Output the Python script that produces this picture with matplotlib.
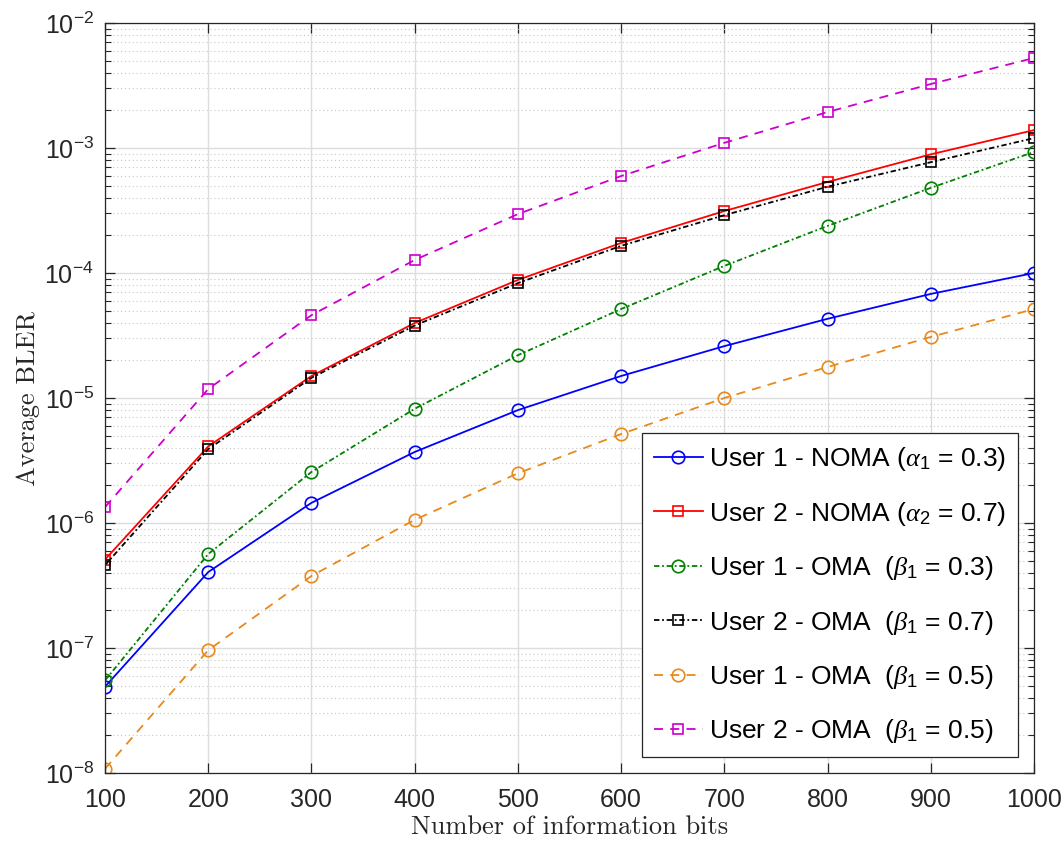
import numpy as np
import matplotlib.pyplot as plt
from matplotlib.ticker import LogLocator, LogFormatterMathtext, NullFormatter

# Block length (number of information bits)
bits = [100, 200, 300, 400, 500, 600, 700, 800, 900, 1000]

# Average BLER
noma_user1 = [4.9e-8, 4.05e-7, 1.45e-6, 3.7e-6, 8.0e-6, 1.5e-5, 2.6e-5, 4.3e-5, 6.8e-5, 1.0e-4]
noma_user2 = [5.1e-7, 4.1e-6, 1.5e-5, 3.98e-5, 8.8e-5, 1.74e-4, 3.13e-4, 5.35e-4, 8.9e-4, 1.39e-3]
oma_user1_b03 = [5.5e-8, 5.65e-7, 2.56e-6, 8.2e-6, 2.2e-5, 5.15e-5, 1.14e-4, 2.38e-4, 4.8e-4, 9.3e-4]
oma_user2_b07 = [4.6e-7, 3.9e-6, 1.45e-5, 3.8e-5, 8.3e-5, 1.65e-4, 2.9e-4, 4.9e-4, 7.7e-4, 1.2e-3]
oma_user1_b05 = [1.08e-8, 9.6e-8, 3.77e-7, 1.06e-6, 2.5e-6, 5.15e-6, 1.0e-5, 1.77e-5, 3.08e-5, 5.15e-5]
oma_user2_b05 = [1.34e-6, 1.18e-5, 4.6e-5, 1.27e-4, 2.96e-4, 5.97e-4, 1.1e-3, 1.94e-3, 3.25e-3, 5.25e-3]

labels = [
    r'User 1 - NOMA ($\alpha_1$ = 0.3)',
    r'User 2 - NOMA ($\alpha_2$ = 0.7)',
    r'User 1 - OMA  ($\beta_1$ = 0.3)',
    r'User 2 - OMA  ($\beta_1$ = 0.7)',
    r'User 1 - OMA  ($\beta_1$ = 0.5)',
    r'User 2 - OMA  ($\beta_1$ = 0.5)',
]

plt.rcParams['font.family'] = ['Liberation Sans', 'DejaVu Sans']
plt.rcParams['mathtext.fontset'] = 'custom'
plt.rcParams['mathtext.rm'] = 'Liberation Sans'
plt.rcParams['mathtext.it'] = 'Liberation Serif:italic'
plt.rcParams['mathtext.default'] = 'it'

fig = plt.figure(figsize=(10.64, 8.46), dpi=100)
ax = fig.add_axes([0.0987, 0.0863, 0.8731, 0.8865])

series = [noma_user1, noma_user2, oma_user1_b03, oma_user2_b07, oma_user1_b05, oma_user2_b05]
styles = [
    dict(color='#0000FF', ls='-', marker='o', ms=9),
    dict(color='#FF0000', ls='-', marker='s', ms=7.5),
    dict(color='#008000', ls=(0, (3, 1.5, 1, 1.5)), marker='o', ms=9),
    dict(color='#000000', ls=(0, (3, 1.5, 1, 1.5)), marker='s', ms=7.5),
    dict(color='#E8891C', ls=(0, (5, 4)), marker='o', ms=9),
    dict(color='#CC00CC', ls=(0, (5, 4)), marker='s', ms=7.5),
]
for y, lab, st in zip(series, labels, styles):
    ax.semilogy(bits, y, label=lab, lw=1.3, mfc='none', mew=1.2, **st)

ax.set_xlim(100, 1000)
ax.set_ylim(1e-8, 1e-2)
ax.set_xticks(bits)
ax.yaxis.set_major_locator(LogLocator(base=10, numticks=10))
ax.yaxis.set_minor_locator(LogLocator(base=10, subs=np.arange(2, 10), numticks=100))
ax.yaxis.set_major_formatter(LogFormatterMathtext())
ax.yaxis.set_minor_formatter(NullFormatter())

ax.grid(True, which='major', color='#DDDDDD', lw=1.0, ls='-')
ax.grid(True, which='minor', axis='y', color='#C8C8C8', lw=0.8, ls=(0, (1, 2.5)))
ax.set_axisbelow(True)

ax.tick_params(which='both', direction='in', top=True, right=True, colors='#262626',
               labelsize=18)
ax.tick_params(which='major', length=7, width=0.9)
ax.tick_params(which='minor', length=4, width=0.8)
ax.tick_params(axis='x', pad=11)
ax.tick_params(axis='y', pad=8)
for sp in ax.spines.values():
    sp.set_color('#262626')
    sp.set_linewidth(0.9)

ax.set_xlabel('Number of information bits', fontfamily='cmr10', fontsize=19, color='#262626', labelpad=2)
ax.set_ylabel('Average BLER', fontfamily='cmr10', fontsize=19, color='#262626', labelpad=3)

leg = ax.legend(loc='lower right', fontsize=19, fancybox=False, framealpha=1,
                edgecolor='#262626', handlelength=1.85, labelspacing=1.0,
                borderaxespad=0.6, handletextpad=0.25, borderpad=0.45)
leg.get_frame().set_linewidth(0.9)

fig.savefig('out.png', dpi=100)
